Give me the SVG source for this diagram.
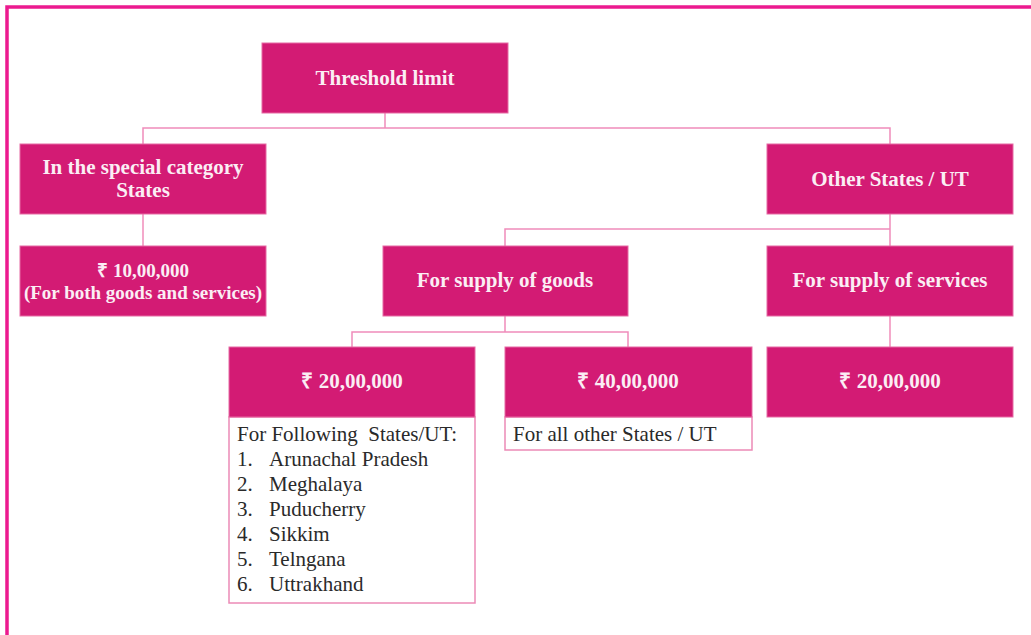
<svg xmlns="http://www.w3.org/2000/svg" width="1031" height="635" viewBox="0 0 1031 635">
<style>
.box{fill:#d31b74;stroke:#e66aa3;stroke-width:1}
.sub{fill:#ffffff;stroke:#ec8ab6;stroke-width:1.5}
.t{font-family:"Liberation Serif","Times New Roman",serif;font-weight:bold;font-size:21px;fill:#fbeef4;text-anchor:middle}
.t2{font-family:"Liberation Serif","Times New Roman",serif;font-weight:bold;font-size:19px;fill:#fbeef4;text-anchor:middle}
.l{font-family:"Liberation Serif","Times New Roman",serif;font-size:21px;fill:#2a2a2a}
.c{fill:none;stroke:#f08cba;stroke-width:1.5}
</style>
<rect width="1031" height="635" fill="#ffffff"/>
<path d="M7,635 V7 H1031" fill="none" stroke="#ec1a8f" stroke-width="3.5"/>
<g id="connectors">
<path class="c" d="M385,113 V128 M143,144 V128 H890 V144"/>
<path class="c" d="M143,214 V246"/>
<path class="c" d="M890,214 V246 M890,229 H505 V246"/>
<path class="c" d="M505,316 V332 M352,347 V332 H628 V347"/>
<path class="c" d="M890,316 V347"/>
</g>
<g id="threshold">
<rect class="box" x="262" y="43" width="246" height="70"/>
<text class="t" x="385" y="85">Threshold limit</text>
</g>
<g id="special">
<rect class="box" x="20" y="144" width="246" height="70"/>
<text class="t" x="143" y="174">In the special category</text>
<text class="t" x="143" y="197">States</text>
</g>
<g id="special-limit">
<rect class="box" x="20" y="246" width="246" height="70"/>
<text class="t2" x="143" y="277">₹ 10,00,000</text>
<text class="t2" x="143" y="299">(For both goods and services)</text>
</g>
<g id="other">
<rect class="box" x="767" y="144" width="246" height="70"/>
<text class="t" x="890" y="186">Other States / UT</text>
</g>
<g id="goods">
<rect class="box" x="383" y="246" width="245" height="70"/>
<text class="t" x="505" y="287">For supply of goods</text>
</g>
<g id="services">
<rect class="box" x="767" y="246" width="246" height="70"/>
<text class="t" x="890" y="287">For supply of services</text>
</g>
<g id="goods-20">
<rect class="sub" x="229" y="417" width="246" height="186"/>
<rect class="box" x="229" y="347" width="246" height="70"/>
<text class="t" x="352" y="388">₹ 20,00,000</text>
<text class="l" x="237" y="441" xml:space="preserve">For Following  States/UT:</text>
<text class="l" x="237" y="466">1.</text><text class="l" x="269" y="466">Arunachal Pradesh</text>
<text class="l" x="237" y="491">2.</text><text class="l" x="269" y="491">Meghalaya</text>
<text class="l" x="237" y="516">3.</text><text class="l" x="269" y="516">Puducherry</text>
<text class="l" x="237" y="541">4.</text><text class="l" x="269" y="541">Sikkim</text>
<text class="l" x="237" y="566">5.</text><text class="l" x="269" y="566">Telngana</text>
<text class="l" x="237" y="591">6.</text><text class="l" x="269" y="591">Uttrakhand</text>
</g>
<g id="goods-40">
<rect class="sub" x="505" y="417" width="247" height="33"/>
<rect class="box" x="505" y="347" width="247" height="70"/>
<text class="t" x="628" y="388">₹ 40,00,000</text>
<text class="l" x="513" y="441">For all other States / UT</text>
</g>
<g id="services-20">
<rect class="box" x="767" y="347" width="246" height="70"/>
<text class="t" x="890" y="388">₹ 20,00,000</text>
</g>
</svg>
